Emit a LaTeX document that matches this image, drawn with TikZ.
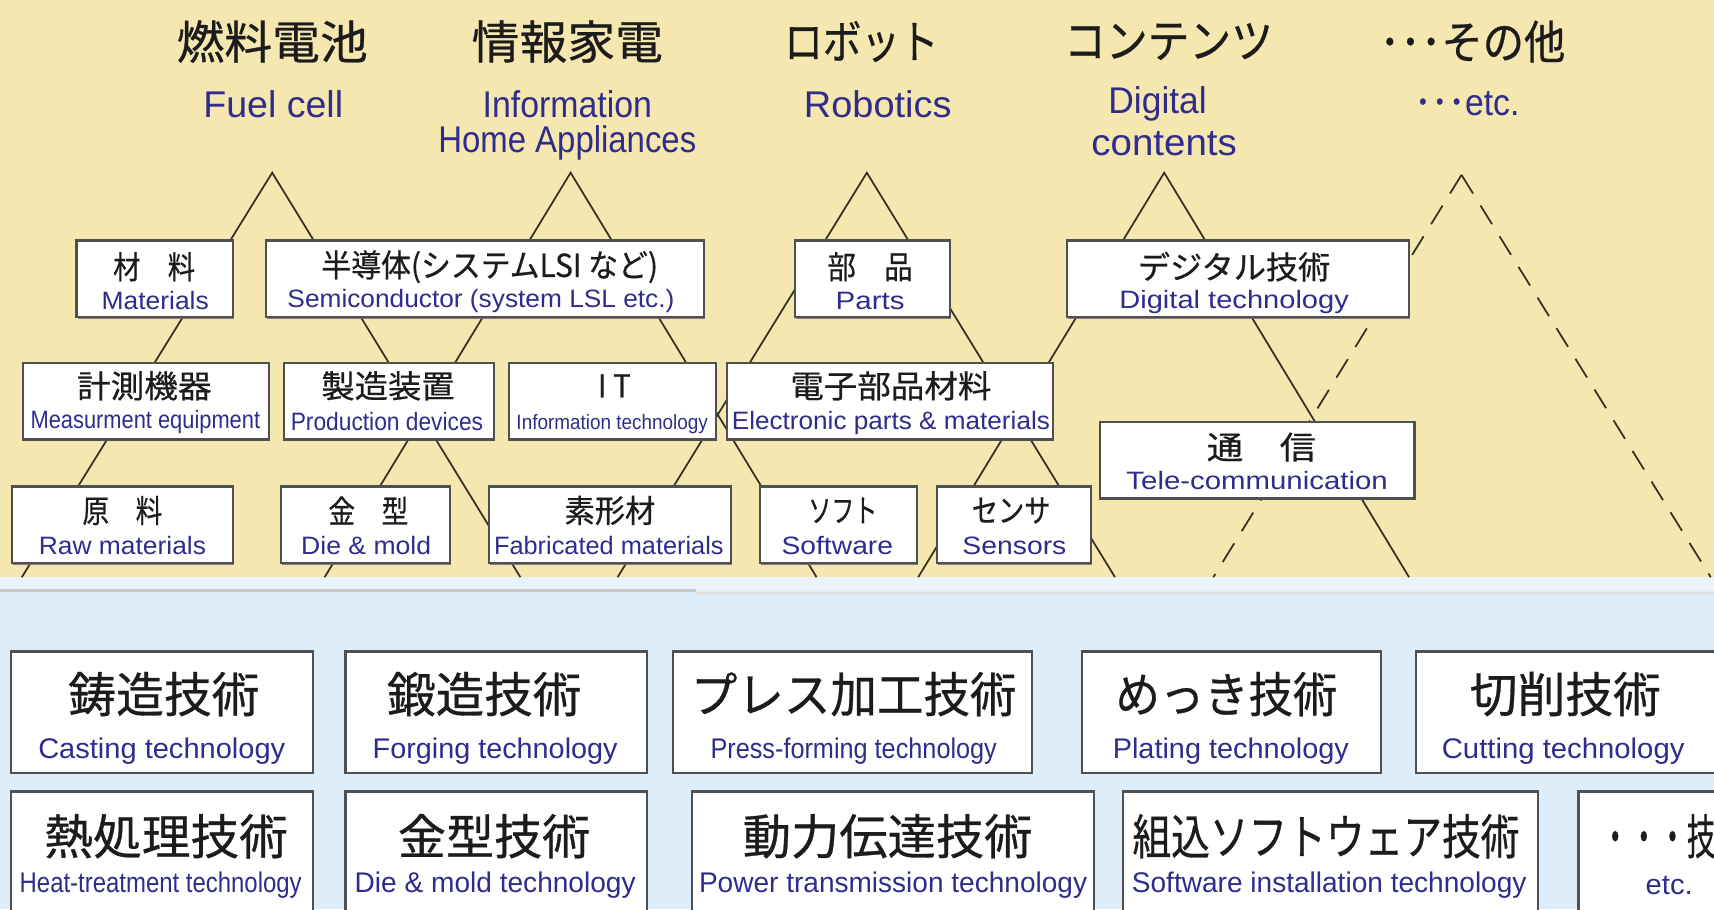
\documentclass[tikz,border=0pt]{standalone}
\usepackage{fontspec}
\usepackage{graphicx}
\usetikzlibrary{shadows}
\newfontfamily\jpf[FakeBold=0.6]{Noto Sans CJK JP}
\newfontfamily\enf{Liberation Sans}
\definecolor{bgtop}{RGB}{245,231,176}
\definecolor{bgbot}{RGB}{222,237,250}
\definecolor{bgband}{RGB}{232,243,251}
\definecolor{encol}{RGB}{48,44,140}
\definecolor{jpcol}{RGB}{28,28,28}
\definecolor{linecol}{RGB}{55,48,35}
\definecolor{boxline}{RGB}{80,80,80}
\newcommand\fw[2]{\resizebox{#1pt}{\height}{#2}}
\newcommand\bx[5]{\node[box, minimum width=#4pt-#2pt, minimum height=#5pt-#3pt] (#1) at ({(#2+#4)/2},{(#3+#5)/2}) {};}
\newcommand\tx[6]{\node[#1] (#2) at (#3,#4) {\fw{#5}{#6}};}
\begin{document}
\begin{tikzpicture}[x=1pt,y=-1pt,
  box/.style={draw=boxline, line width=2pt, fill=white, inner sep=0pt,
    drop shadow={shadow xshift=1pt, shadow yshift=-1.5pt, fill=black!55, opacity=0.9}},
  ttl/.style={inner sep=0pt, text=jpcol, font=\jpf\fontsize{42}{42}\selectfont},
  ten/.style={inner sep=0pt, text=encol, font=\enf\fontsize{34}{34}\selectfont},
  bj/.style={inner sep=0pt, text=jpcol, font=\jpf\fontsize{29}{29}\selectfont},
  be/.style={inner sep=0pt, text=encol, font=\enf\fontsize{23}{23}\selectfont},
  lj/.style={inner sep=0pt, text=jpcol, font=\jpf\fontsize{44}{44}\selectfont},
  le/.style={inner sep=0pt, text=encol, font=\enf\fontsize{26}{26}\selectfont},
  leg/.style={draw=linecol, line width=1.6pt},
  dleg/.style={leg, dash pattern=on 20pt off 13pt}]
\useasboundingbox (0,0) rectangle (1568,832);
\clip (0,0) rectangle (1568,832);
% background
\fill[bgtop] (0,0) rectangle (1568,528);
\fill[bgbot] (0,528) rectangle (1568,832);
\fill[bgband] (0,528) rectangle (1568,541);
\draw[black!22, line width=2.5pt] (0,540) -- (637,540);
\draw[black!12, line width=2.5pt] (637,543) -- (1568,543);
% triangles
\coordinate (fA) at (249,158); \coordinate (fL) at (20,528);  \coordinate (fR) at (476,528);
\coordinate (iA) at (522,158); \coordinate (iL) at (297,528); \coordinate (iR) at (747,528);
\coordinate (rA) at (793,158); \coordinate (rL) at (565,528); \coordinate (rR) at (1020,528);
\coordinate (cA) at (1065,158); \coordinate (cL) at (840,528); \coordinate (cR) at (1289,528);
\coordinate (eA) at (1337,160); \coordinate (eL) at (1110,528); \coordinate (eR) at (1565,528);
\draw[leg] (fL) -- (fA) -- (fR);
\draw[leg] (iL) -- (iA) -- (iR);
\draw[leg] (rL) -- (rA) -- (rR);
\draw[leg] (cL) -- (cA) -- (cR);
\draw[dleg] (eA) -- (eL);
\draw[dleg] (eA) -- (eR);
% titles
\tx{ttl}{t1}{249}{38}{175}{燃料電池}
\tx{ttl}{t2}{519}{38}{175}{情報家電}
\tx{ttl}{t3}{788}{38}{141}{ロボット}
\tx{ttl}{t4}{1069}{38}{191}{コンテンツ}
\tx{ttl}{t5}{1347}{38}{170}{･･･その他}
\tx{ten}{e1}{250}{95}{128}{Fuel cell}
\tx{ten}{e2}{519}{95}{155}{Information}
\tx{ten}{e2b}{519}{131}{236}{Home Appliances}
\tx{ten}{e3}{803}{95}{135}{Robotics}
\tx{ten}{e4}{1059}{95}{90}{Digital}
\tx{ten}{e4b}{1065}{131}{133}{contents}
\tx{ten}{e5}{1342}{95}{96}{{\jpf ･･･}etc.}
% row 1
\bx{mat}{70}{220}{213}{290}
\bx{semi}{243}{220}{644}{290}
\bx{parts}{727}{220}{869}{290}
\bx{digi}{976}{220}{1289}{290}
% row 2
\bx{meas}{21}{332}{246}{402}
\bx{prod}{260}{332}{452}{402}
\bx{it}{466}{332}{655}{402}
\bx{elec}{665}{332}{963}{402}
\bx{tele}{1006}{386}{1294}{456}
% row 3
\bx{raw}{11}{445}{213}{515}
\bx{die}{257}{445}{412}{515}
\bx{fab}{447}{445}{669}{515}
\bx{soft}{695}{445}{839}{515}
\bx{sens}{857}{445}{998}{515}
% texts row 1
\tx{bj}{mat-j}{141}{244}{75}{材　料}
\tx{be}{mat-e}{142}{275}{98}{Materials}
\tx{bj}{semi-j}{448}{244}{308}{半導体(システムLSI など)}
\tx{be}{semi-e}{440}{275}{354}{Semiconductor (system LSL etc.)}
\tx{bj}{parts-j}{796}{244}{78}{部　品}
\tx{be}{parts-e}{796}{275}{63}{Parts}
\tx{bj}{digi-j}{1129}{244}{176}{デジタル技術}
\tx{be}{digi-e}{1129}{276}{210}{Digital technology}
% texts row 2
\tx{bj}{meas-j}{132}{353}{123}{計測機器}
\tx{be}{meas-e}{133}{386}{210}{Measurment equipment}
\tx{bj}{prod-j}{355}{353}{122}{製造装置}
\tx{be}{prod-e}{354}{386}{176}{Production devices}
\tx{bj}{it-j}{562}{353}{30}{I T}
\tx{be,font=\enf\fontsize{19}{19}\selectfont}{it-e}{560}{388}{175}{Information technology}
\tx{bj}{elec-j}{815}{353}{184}{電子部品材料}
\tx{be}{elec-e}{815}{387}{291}{Electronic parts \& materials}
\tx{bj}{tele-j}{1154}{409}{100}{通　信}
\tx{be}{tele-e}{1150}{440}{239}{Tele-communication}
% texts row 3
\tx{bj}{raw-j}{112}{467}{73}{原　料}
\tx{be}{raw-e}{112}{499}{153}{Raw materials}
\tx{bj}{die-j}{337}{467}{73}{金　型}
\tx{be}{die-e}{335}{499}{119}{Die \& mold}
\tx{bj}{fab-j}{558}{467}{83}{素形材}
\tx{be}{fab-e}{557}{499}{210}{Fabricated materials}
\tx{bj}{soft-j}{771}{467}{63}{ソフト}
\tx{be}{soft-e}{766}{499}{102}{Software}
\tx{bj}{sens-j}{925}{467}{72}{センサ}
\tx{be}{sens-e}{928}{499}{95}{Sensors}
% bottom boxes row A
\bx{cast}{10}{596}{286}{707}
\bx{forg}{316}{596}{592}{707}
\bx{press}{616}{596}{944}{707}
\bx{plat}{990}{596}{1263}{707}
\bx{cut}{1295}{596}{1590}{707}
% bottom boxes row B
\bx{heat}{10}{724}{286}{850}
\bx{diet}{316}{724}{592}{850}
\bx{power}{633}{724}{1001}{850}
\bx{softi}{1027}{724}{1407}{850}
\bx{etcb}{1444}{724}{1640}{850}
% bottom texts
\tx{lj}{cast-j}{150}{635}{175}{鋳造技術}
\tx{le}{cast-e}{148}{687}{226}{Casting technology}
\tx{lj}{forg-j}{443}{635}{178}{鍛造技術}
\tx{le}{forg-e}{453}{687}{224}{Forging technology}
\tx{lj}{press-j}{781}{635}{298}{プレス加工技術}
\tx{le}{press-e}{781}{687}{262}{Press-forming technology}
\tx{lj}{plat-j}{1122}{635}{203}{めっき技術}
\tx{le}{plat-e}{1126}{687}{216}{Plating technology}
\tx{lj}{cut-j}{1432}{635}{175}{切削技術}
\tx{le}{cut-e}{1430}{687}{222}{Cutting technology}
\tx{lj}{heat-j}{152}{765}{223}{熱処理技術}
\tx{le}{heat-e}{147}{810}{258}{Heat-treatment technology}
\tx{lj}{diet-j}{452}{765}{176}{金型技術}
\tx{le}{diet-e}{453}{810}{257}{Die \& mold technology}
\tx{lj}{power-j}{812}{765}{265}{動力伝達技術}
\tx{le}{power-e}{817}{810}{355}{Power transmission technology}
\tx{lj}{softi-j}{1213}{765}{354}{組込ソフトウェア技術}
\tx{le}{softi-e}{1216}{810}{361}{Software installation technology}
\tx{lj}{etc-j}{1530}{765}{131}{・・・技術}
\tx{le}{etc-e}{1527}{810}{43}{etc.}
\end{tikzpicture}
\end{document}
